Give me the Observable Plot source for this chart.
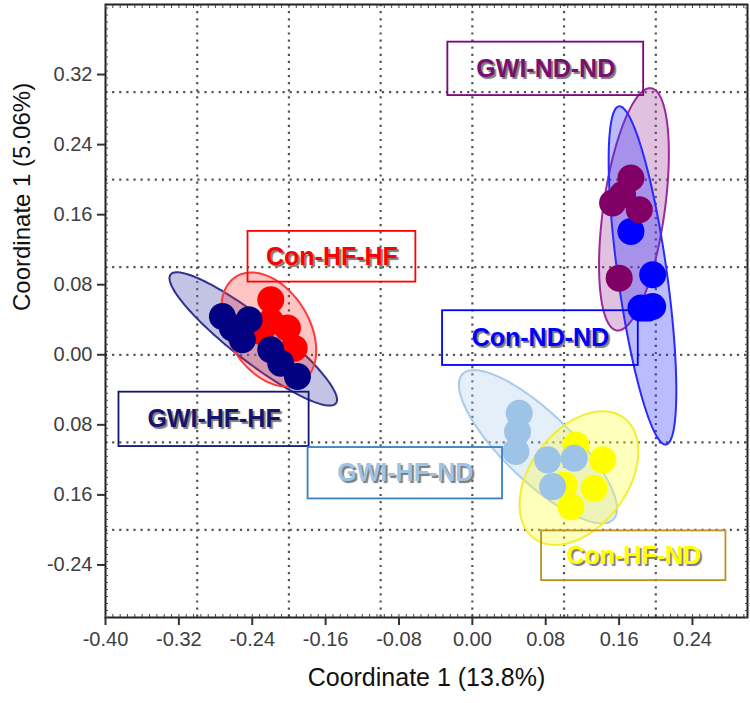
<!DOCTYPE html>
<html><head><meta charset="utf-8">
<script src="https://cdn.jsdelivr.net/npm/d3@7"></script>
<script src="https://cdn.jsdelivr.net/npm/@observablehq/plot@0.6"></script>
<style>body{margin:0;background:#fff}
.lbl text{ text-shadow: 2px 2px 1px #7c7c7c; }
</style>
</head><body><div id="chart"></div>
<script>
// ---- data ----
const groups = ["GWI-HF-HF","Con-HF-HF","GWI-ND-ND","Con-ND-ND","GWI-HF-ND","Con-HF-ND"];

const gwiHfHfX = [-0.2725,-0.2435,-0.2507,-0.2616,-0.2198,-0.2089,-0.1907];
const gwiHfHfY = [0.0438,0.0400,0.0171,0.0305,0.0057,-0.0096,-0.0248];
const conHfHfX = [-0.2198,-0.2016,-0.1943,-0.2307,-0.2198];
const conHfHfY = [0.0629,0.0305,0.0076,0.0266,0.0381];
const gwiNdNdX = [0.1729,0.1529,0.1820,0.1638,0.1601];
const gwiNdNdY = [0.2018,0.1733,0.1657,0.1829,0.0875];
const conNdNdX = [0.1729,0.1966,0.1911,0.1838,0.1966];
const conNdNdY = [0.1409,0.0914,0.0533,0.0533,0.0552];
const gwiHfNdX = [0.0511,0.0493,0.0475,0.0820,0.1111,0.0875];
const gwiHfNdY = [-0.0667,-0.0877,-0.1105,-0.1200,-0.1181,-0.1505];
const conHfNdX = [0.1129,0.1420,0.1329,0.1075,0.1001];
const conHfNdY = [-0.1029,-0.1200,-0.1525,-0.1734,-0.1486];

// ellipse centre, semi-major vector and semi-minor length (data units)
const ellipseCX = [-0.2389,-0.2220,0.1762,0.1855,0.0715,0.1162];
const ellipseCY = [0.0181,0.0289,0.1661,0.0906,-0.1050,-0.1408];
const ellipseAX = [0.0900,0.0338,0.0186,0.0256,0.0818,0.0470];
const ellipseAY = [-0.0737,-0.0614,0.1383,-0.1931,-0.0834,0.0702];
const ellipseB  = [0.0246,0.0447,0.0335,0.0268,0.0380,0.0536];

// label boxes (data units)
const labelText = ["GWI-HF-HF","Con-HF-HF","GWI-ND-ND","Con-ND-ND","GWI-HF-ND","Con-HF-ND"];
const labelX1 = [-0.3853,-0.2446,-0.0267,-0.0325,-0.1791,0.0755];
const labelX2 = [-0.1780,-0.0616,0.1868,0.1809,0.0329,0.2765];
const labelY1 = [-0.1048,0.0830,0.2960,-0.0122,-0.1646,-0.2579];
const labelY2 = [-0.0427,0.1409,0.3570,0.0503,-0.1059,-0.2011];

const xTicks = [-0.40,-0.32,-0.24,-0.16,-0.08,0.00,0.08,0.16,0.24];
const xTickLabels = ["-0.40","-0.32","-0.24","-0.16","-0.08","0.00","0.08","0.16","0.24"];
const yTicks = [-0.24,-0.16,-0.08,0.00,0.08,0.16,0.24,0.32];
const yTickLabels = ["-0.24","0.16","0.08","0.00","0.08","0.16","0.24","0.32"];
const xGrid = [-0.3,-0.2,-0.1,0.0,0.1,0.2];
const yGrid = [-0.2,-0.1,0.0,0.1,0.2,0.3];

// ---- styles ----
const pointColor = ["#000080","#ff0000","#800066","#0000ff","#9dc3e6","#ffff00"];
const ellFill    = ["#6a6ab8","#ff3030","#a040a0","#3030ff","#a8cbea","#ffff40"];
const ellFillOp  = [0.40,0.28,0.32,0.33,0.30,0.35];
const ellStroke  = ["#303090","#ff3a3a","#9a2a9a","#2a2aff","#a8cbea","#f2ee30"];
const labelColor = ["#14146e","#ff0000","#7a0f72","#0000ff","#9dc3e6","#ffff00"];
const boxColor   = ["#14146e","#ff0000","#800080","#0000ff","#3a7fc0","#c09020"];

const pointSets = [[gwiHfHfX,gwiHfHfY],[conHfHfX,conHfHfY],[gwiNdNdX,gwiNdNdY],[conNdNdX,conNdNdY],[gwiHfNdX,gwiHfNdY],[conHfNdX,conHfNdY]];
const points = pointSets.map(([xs,ys],g)=>xs.map((x,i)=>({g, x, y: ys[i]})));

function ellipse(i){
  const ax=ellipseAX[i], ay=ellipseAY[i], L=Math.hypot(ax,ay);
  const nx=-ay/L*ellipseB[i], ny=ax/L*ellipseB[i];
  const pts=[];
  for(let k=0;k<=144;k++){
    const t=2*Math.PI*k/144;
    pts.push({x: ellipseCX[i]+Math.cos(t)*ax+Math.sin(t)*nx, y: ellipseCY[i]+Math.cos(t)*ay+Math.sin(t)*ny});
  }
  return pts;
}
const labels = labelText.map((t,i)=>({t,i,x1:labelX1[i],x2:labelX2[i],y1:labelY1[i],y2:labelY2[i],x:(labelX1[i]+labelX2[i])/2,y:(labelY1[i]+labelY2[i])/2}));

const minorX = d3.range(-0.40, 0.3001, 0.008);
const minorY = d3.range(-0.30, 0.4001, 0.008);

const ellOrder = [0,1,2,3,4,5];
const ptOrder = [1,0,3,2,5,4];

const marks = [
  Plot.ruleX(xGrid, {stroke:"#555", strokeWidth:2.2, strokeDasharray:"2.2,4.9"}),
  Plot.ruleY(yGrid, {stroke:"#555", strokeWidth:2.2, strokeDasharray:"2.2,4.9"}),
  ...ellOrder.map(i=>Plot.line(ellipse(i), {x:"x", y:"y", fill:ellFill[i], fillOpacity:ellFillOp[i], stroke:ellStroke[i], strokeWidth:2, curve:"linear-closed"})),
  ...ptOrder.map(i=>Plot.dot(points[i], {x:"x", y:"y", r:13.5, fill:pointColor[i], stroke:"none"})),
  Plot.rect(labels, {x1:"x1", x2:"x2", y1:"y1", y2:"y2", fill:"none", stroke:d=>boxColor[d.i], strokeWidth:1.8}),
  Plot.text(labels, {x:"x", y:"y", text:"t", fill:d=>labelColor[d.i], fontSize:25, fontWeight:"bold", fontFamily:"Liberation Sans, Arial, sans-serif", className:"lbl"}),
  Plot.frame({stroke:"#222", strokeWidth:2}),
  Plot.axisX({ticks:minorX, tickSize:-3, tickFormat:()=>"", label:null, stroke:"#444"}),
  Plot.axisX({anchor:"top", ticks:minorX, tickSize:-3, tickFormat:()=>"", label:null, stroke:"#444"}),
  Plot.axisY({ticks:minorY, tickSize:-3, tickFormat:()=>"", label:null, stroke:"#444"}),
  Plot.axisY({anchor:"right", ticks:minorY, tickSize:-3, tickFormat:()=>"", label:null, stroke:"#444"}),
  Plot.axisX({ticks:xTicks, tickSize:8, tickPadding:6, tickFormat:(d)=>xTickLabels[xTicks.findIndex(v=>Math.abs(v-d)<1e-9)], label:null, fontSize:20, fill:"#404040", stroke:"#333", strokeWidth:2}),
  Plot.axisY({ticks:yTicks, tickSize:8, tickPadding:5, tickFormat:(d)=>yTickLabels[yTicks.findIndex(v=>Math.abs(v-d)<1e-9)], label:null, fontSize:20, fill:"#404040", stroke:"#333", strokeWidth:2}),
  Plot.text(["Coordinate 1 (13.8%)"], {frameAnchor:"bottom", dy:68, text:d=>d, fontSize:25, fill:"#111", fontFamily:"Liberation Sans Narrow, Liberation Sans, Arial, sans-serif"}),
  Plot.text(["Coordinate 1 (5.06%)"], {frameAnchor:"left", dx:-83, rotate:-90, text:d=>d, fontSize:24, fill:"#111"})
];

const chart = Plot.plot({
  width:750, height:703,
  marginLeft:105, marginRight:3, marginTop:4, marginBottom:86,
  x:{domain:[-0.40,0.30]},
  y:{domain:[-0.30,0.40]},
  style:{fontFamily:"Liberation Sans, Arial, sans-serif", background:"#fff", overflow:"visible"},
  marks
});
document.getElementById("chart").append(chart);
</script>
</body></html>
